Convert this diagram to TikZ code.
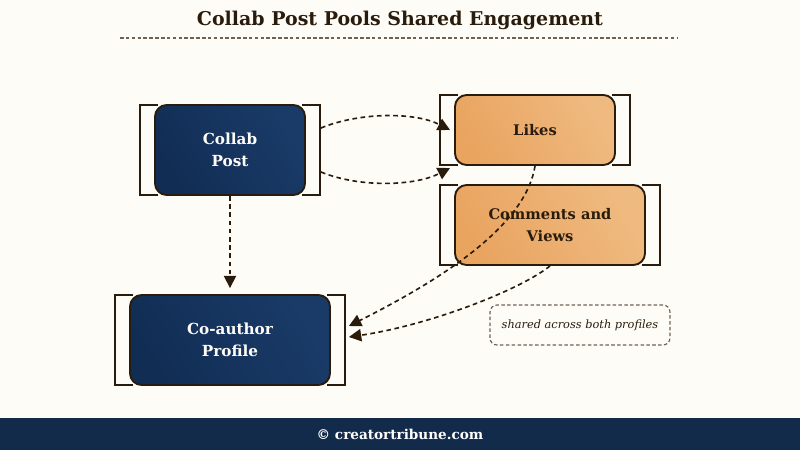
\documentclass[tikz,border=0pt]{standalone}
\usepackage{fontspec}
\setmainfont{DejaVu Serif}
\usetikzlibrary{arrows.meta}
\definecolor{bgcream}{HTML}{FEFCF7}
\definecolor{inkbrown}{HTML}{2A1C0C}
\definecolor{navyA}{HTML}{112D54}
\definecolor{navyB}{HTML}{1A3B68}
\definecolor{orangeA}{HTML}{E9A460}
\definecolor{orangeB}{HTML}{EFBA80}
\definecolor{rulegray}{HTML}{6E6255}
\definecolor{footnavy}{HTML}{132B4B}
\begin{document}
\begin{tikzpicture}[x=0.03cm, y=-0.03cm, >={Triangle[length=10.5pt,width=10.5pt]},
  navybox/.style={draw=inkbrown, line width=1.6pt, rounded corners=10pt, shading=axis, left color=navyA, right color=navyB,
    shading angle=120, text=bgcream, font=\fontsize{13}{19}\selectfont\bfseries, align=center, inner sep=0pt},
  orangebox/.style={draw=inkbrown, line width=1.6pt, rounded corners=10pt, shading=axis, left color=orangeA, right color=orangeB,
    shading angle=120, text=inkbrown, font=\fontsize{12.5}{18.5}\selectfont\bfseries, align=center, inner sep=0pt},
  brk/.style={draw=inkbrown, line width=1.6pt},
  flow/.style={->, draw=inkbrown, line width=1.4pt, dash pattern=on 4pt off 3pt}]
  \fill[bgcream] (0,0) rectangle (800,450);
  \useasboundingbox (0,0) rectangle (800,450);
  % title
  \node[text=inkbrown, font=\fontsize{16.2}{19}\selectfont\bfseries] (title) at (400,20) {Collab Post Pools Shared Engagement};
  \draw[rulegray, line width=1pt, dash pattern=on 3pt off 2pt] (120,38) -- (677,38);
  % brackets first, boxes on top
  \foreach \nd/\cx/\cy/\w/\h in {cp/230/150/150/90, likes/535/130/160/70, cv/550/225/190/80, ca/230/340/200/90} {
    \draw[brk] (\cx-\w/2+3,\cy-\h/2) -- ++(-18,0) -- ++(0,\h) -- ++(18,0);
    \draw[brk] (\cx+\w/2-3,\cy-\h/2) -- ++(18,0) -- ++(0,\h) -- ++(-18,0);
  }
  \node[navybox, minimum width=4.5cm, minimum height=2.7cm] (cp) at (230,150) {Collab\\Post};
  \node[orangebox, minimum width=4.8cm, minimum height=2.1cm] (likes) at (535,130) {Likes};
  \node[orangebox, minimum width=5.7cm, minimum height=2.4cm] (cv) at (550,225) {Comments and\\Views};
  \node[navybox, minimum width=6cm, minimum height=2.7cm] (ca) at (230,340) {Co-author\\Profile};
  \node[draw=rulegray, line width=1pt, dash pattern=on 3pt off 2pt, rounded corners=6pt, minimum width=5.4cm, minimum height=1.2cm,
    text=inkbrown, font=\fontsize{9.7}{11}\selectfont\itshape] (note) at (580,325) {shared across both profiles};
  % connectors
  \draw[flow] ([shift={(15,-22)}]cp.east) .. controls (360,112) and (415,112) .. ([shift={(-4,0)}]likes.west);
  \draw[flow] ([shift={(15,22)}]cp.east) .. controls (360,188) and (415,186) .. ([shift={(-4,38)}]likes.west);
  \draw[flow] (cp.south) -- ([shift={(0,-6)}]ca.north);
  \draw[flow] (likes.south) .. controls (525,230) and (430,285) .. ([shift={(18,-14)}]ca.east);
  \draw[flow] (cv.south) .. controls (520,290) and (430,325) .. ([shift={(18,-3)}]ca.east);
  % footer
  \fill[footnavy] (0,418) rectangle (800,450);
  \node[text=white, font=\fontsize{11.6}{13}\selectfont\bfseries] (foot) at (400,434) {© creatortribune.com};
\end{tikzpicture}
\end{document}
